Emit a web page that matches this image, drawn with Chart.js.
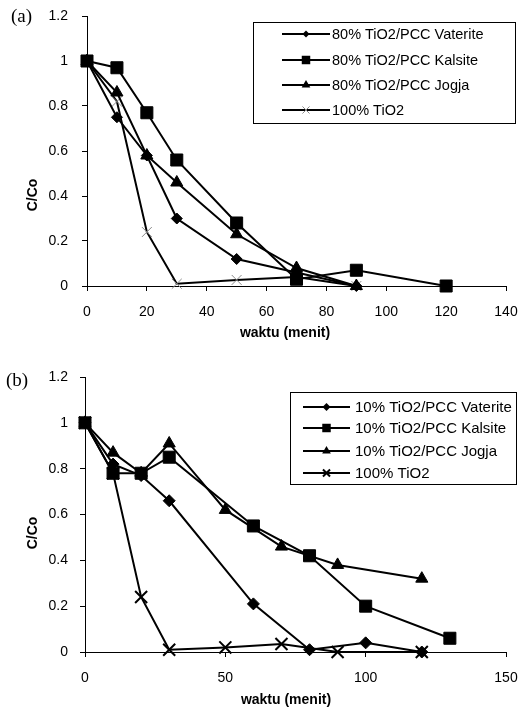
<!DOCTYPE html>
<html><head><meta charset="utf-8">
<script src="https://cdn.jsdelivr.net/npm/chart.js@4"></script>
<style>
html,body{margin:0;padding:0;background:#fff;}
#wrap{position:relative;width:518px;height:708px;overflow:hidden;}
.pane{position:absolute;left:0;width:518px;}
</style></head><body>
<div id="wrap">
<div class="pane" style="top:0;height:345px"><canvas id="c1" width="518" height="345"></canvas></div>
<div class="pane" style="top:345px;height:363px"><canvas id="c2" width="518" height="363"></canvas></div>
</div>
<script>
// ---------- DATA (a) ----------
const topLabels = ['80% TiO2/PCC Vaterite', '80% TiO2/PCC Kalsite', '80% TiO2/PCC Jogja', '100% TiO2'];
const topVateriteX = [0, 10, 20, 30, 50, 70, 90];
const topVateriteY = [1, 0.75, 0.58, 0.30, 0.12, 0.06, 0];
const topKalsiteX = [0, 10, 20, 30, 50, 70, 90, 120];
const topKalsiteY = [1, 0.97, 0.77, 0.56, 0.28, 0.03, 0.07, 0];
const topJogjaX = [0, 10, 20, 30, 50, 70, 90];
const topJogjaY = [1, 0.86, 0.58, 0.46, 0.23, 0.08, 0];
const topTiO2X = [0, 10, 20, 30, 50, 70, 90];
const topTiO2Y = [1, 0.82, 0.24, 0.01, 0.027, 0.04, 0];
const topXTicks = [0, 20, 40, 60, 80, 100, 120, 140];
const topYTicks = [0, 0.2, 0.4, 0.6, 0.8, 1, 1.2];

// ---------- DATA (b) ----------
const botLabels = ['10% TiO2/PCC Vaterite', '10% TiO2/PCC Kalsite', '10% TiO2/PCC Jogja', '100% TiO2'];
const botVateriteX = [0, 10, 20, 30, 60, 80, 100, 120];
const botVateriteY = [1, 0.82, 0.77, 0.66, 0.21, 0.01, 0.04, 0];
const botKalsiteX = [0, 10, 20, 30, 60, 80, 100, 130];
const botKalsiteY = [1, 0.78, 0.78, 0.85, 0.55, 0.42, 0.20, 0.06];
const botJogjaX = [0, 10, 20, 30, 50, 70, 90, 120];
const botJogjaY = [1, 0.87, 0.78, 0.91, 0.62, 0.46, 0.38, 0.32];
const botTiO2X = [0, 10, 20, 30, 50, 70, 90, 120];
const botTiO2Y = [1, 0.78, 0.24, 0.01, 0.02, 0.035, 0, 0];
const botXTicks = [0, 50, 100, 150];
const botYTicks = [0, 0.2, 0.4, 0.6, 0.8, 1, 1.2];

const xTitle = 'waktu (menit)';
const yTitle = 'C/Co';

Chart.defaults.font.family = '"Liberation Sans", Arial, sans-serif';
Chart.defaults.color = '#000';

function pts(xs, ys) { return xs.map((x, i) => ({x: x, y: ys[i]})); }

function drawMarker(ctx, style, x, y, r, color, bw) {
  ctx.save();
  ctx.fillStyle = color; ctx.strokeStyle = color; ctx.lineWidth = bw;
  ctx.beginPath();
  if (style === 'rectRot') {
    ctx.moveTo(x - r, y); ctx.lineTo(x, y - r); ctx.lineTo(x + r, y); ctx.lineTo(x, y + r); ctx.closePath(); ctx.fill();
  } else if (style === 'rect') {
    const s = r * Math.SQRT1_2; ctx.rect(x - s, y - s, 2 * s, 2 * s); ctx.fill();
  } else if (style === 'triangle') {
    ctx.moveTo(x, y - r); ctx.lineTo(x + r * 0.866, y + r * 0.5); ctx.lineTo(x - r * 0.866, y + r * 0.5); ctx.closePath(); ctx.fill();
  } else if (style === 'crossRot') {
    const d = r * Math.SQRT1_2;
    ctx.moveTo(x - d, y - d); ctx.lineTo(x + d, y + d); ctx.moveTo(x + d, y - d); ctx.lineTo(x - d, y + d); ctx.stroke();
  }
  ctx.restore();
}

const overlay = {
  id: 'overlay',
  afterDraw(chart, args, o) {
    const ctx = chart.ctx;
    ctx.save();
    ctx.fillStyle = '#000';
    ctx.textBaseline = 'middle';
    ctx.textAlign = 'left';
    ctx.font = o.panelFont;
    ctx.fillText(o.panel, o.panelX, o.panelY);
    ctx.font = 'bold 14px "Liberation Sans"';
    ctx.textAlign = 'center';
    ctx.fillText(o.xTitle, o.xTitleX, o.xTitleY);
    ctx.save();
    ctx.translate(o.yTitleX, o.yTitleY);
    ctx.rotate(-Math.PI / 2);
    ctx.fillText(o.yTitle, 0, 0);
    ctx.restore();
    const L = o.legend;
    ctx.fillStyle = '#fff';
    ctx.fillRect(L.x, L.y, L.w, L.h);
    ctx.strokeStyle = '#000'; ctx.lineWidth = 1;
    ctx.strokeRect(L.x + 0.5, L.y + 0.5, L.w, L.h);
    ctx.font = L.font;
    ctx.textAlign = 'left';
    chart.data.datasets.forEach((ds, i) => {
      const y = L.rows[i];
      ctx.strokeStyle = '#000'; ctx.lineWidth = 2;
      ctx.beginPath(); ctx.moveTo(L.lx1, y); ctx.lineTo(L.lx2, y); ctx.stroke();
      drawMarker(ctx, ds.pointStyle, (L.lx1 + L.lx2) / 2, y, L.mr[i], ds.pointBackgroundColor, L.mbw[i]);
      ctx.fillStyle = '#000';
      ctx.fillText(ds.label, L.tx, y + 1);
    });
    ctx.restore();
  }
};

function ds(label, xs, ys, style, r, color, bw) {
  return {
    label: label, data: pts(xs, ys), showLine: true, tension: 0,
    borderColor: '#000', borderWidth: 2,
    pointStyle: style, pointRadius: r, pointBackgroundColor: color, pointBorderColor: color,
    pointBorderWidth: bw, clip: false
  };
}

function noPad(s) { s.paddingLeft = 0; s.paddingRight = 0; s.paddingTop = 0; s.paddingBottom = 0; }

function makeChart(id, c) {
  return new Chart(document.getElementById(id), {
    type: 'scatter',
    data: {datasets: c.datasets},
    options: {
      responsive: false, animation: false, events: [],
      layout: {padding: {left: 0, right: c.padRight, top: c.padTop, bottom: 0}},
      plugins: {legend: {display: false}, tooltip: {enabled: false}, overlay: c.overlay},
      scales: {
        x: {
          type: 'linear', min: 0, max: c.xTicks[c.xTicks.length - 1],
          afterBuildTicks: s => { s.ticks = c.xTicks.map(v => ({value: v})); },
          afterFit: s => { s.height = c.xHeight; noPad(s); },
          ticks: {font: {size: 14}, padding: c.xPad, color: '#000', maxRotation: 0, autoSkip: false,
                  callback: v => String(v)},
          grid: {drawOnChartArea: false, drawTicks: true, tickLength: 5, color: '#000', lineWidth: 1},
          border: {display: true, color: '#000', width: 1}
        },
        y: {
          type: 'linear', min: 0, max: 1.2,
          afterBuildTicks: s => { s.ticks = c.yTicks.map(v => ({value: v})); },
          afterFit: s => { s.width = c.yWidth; noPad(s); },
          ticks: {font: {size: 14}, padding: c.yPad, color: '#000', autoSkip: false,
                  callback: v => String(Number(v.toFixed(2)))},
          grid: {drawOnChartArea: false, drawTicks: true, tickLength: 5, color: '#000', lineWidth: 1},
          border: {display: true, color: '#000', width: 1}
        }
      }
    },
    plugins: [overlay]
  });
}

makeChart('c1', {
  datasets: [
    ds(topLabels[0], topVateriteX, topVateriteY, 'rectRot', 5.5, '#000', 1),
    ds(topLabels[1], topKalsiteX, topKalsiteY, 'rect', 8.5, '#000', 1),
    ds(topLabels[2], topJogjaX, topJogjaY, 'triangle', 7, '#000', 1),
    ds(topLabels[3], topTiO2X, topTiO2Y, 'crossRot', 7, '#8a8a8a', 1)
  ],
  xTicks: topXTicks, yTicks: topYTicks,
  padTop: 16, padRight: 12, yWidth: 87, xHeight: 59, xPad: 13, yPad: 14,
  overlay: {
    panel: '(a)', panelFont: '19px "Liberation Serif"', panelX: 11, panelY: 17,
    xTitle: xTitle, xTitleX: 285, xTitleY: 333,
    yTitle: yTitle, yTitleX: 33, yTitleY: 195,
    legend: {x: 253, y: 22, w: 262, h: 101, rows: [34, 60, 85, 110], lx1: 282, lx2: 330, tx: 332,
             font: '14.5px "Liberation Sans"', mr: [3.5, 6, 5, 5], mbw: [1, 1, 1, 1]}
  }
});

makeChart('c2', {
  datasets: [
    ds(botLabels[0], botVateriteX, botVateriteY, 'rectRot', 6, '#000', 1),
    ds(botLabels[1], botKalsiteX, botKalsiteY, 'rect', 8.5, '#000', 1),
    ds(botLabels[2], botJogjaX, botJogjaY, 'triangle', 7, '#000', 1),
    ds(botLabels[3], botTiO2X, botTiO2Y, 'crossRot', 8.5, '#000', 2)
  ],
  xTicks: botXTicks, yTicks: botYTicks,
  padTop: 32, padRight: 12, yWidth: 85, xHeight: 56, xPad: 13, yPad: 12,
  overlay: {
    panel: '(b)', panelFont: '19px "Liberation Serif"', panelX: 6, panelY: 36,
    xTitle: xTitle, xTitleX: 286, xTitleY: 355,
    yTitle: yTitle, yTitleX: 33, yTitleY: 188,
    legend: {x: 290, y: 47, w: 226, h: 92, rows: [62, 83, 106, 128], lx1: 303, lx2: 350, tx: 355,
             font: '15px "Liberation Sans"', mr: [4, 6, 5, 5], mbw: [1, 1, 1, 2]}
  }
});
</script>
</body></html>
